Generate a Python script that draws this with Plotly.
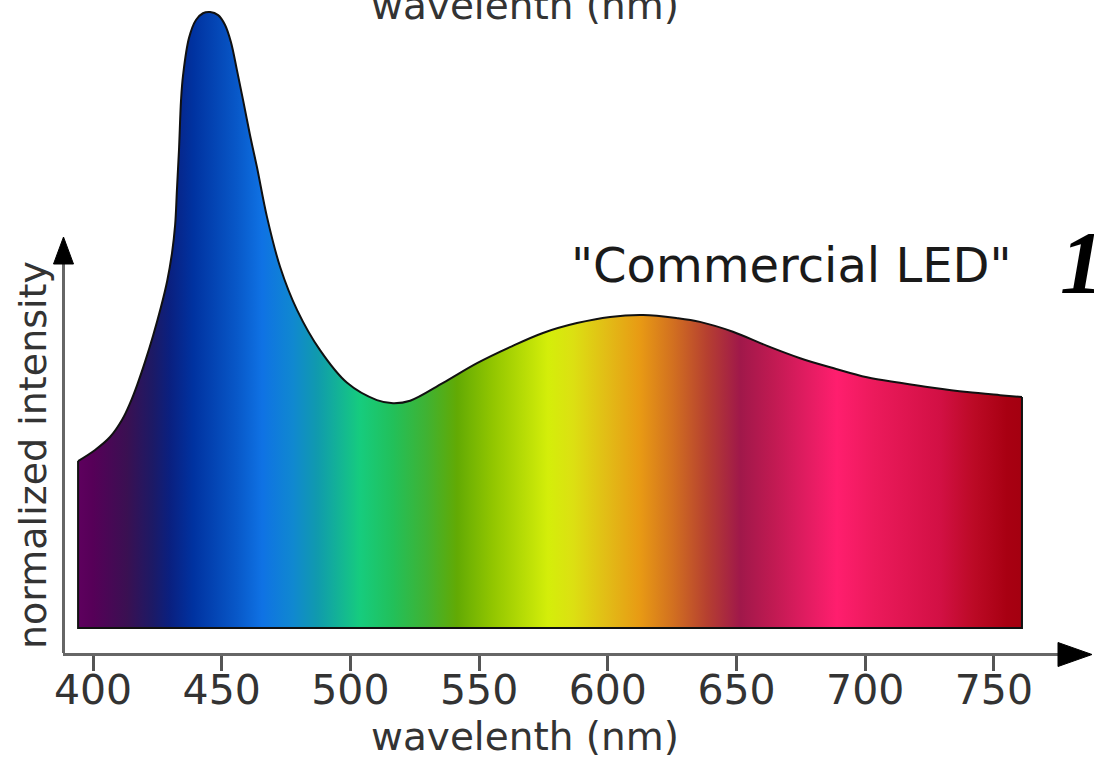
import plotly.graph_objects as go

# ---- data ----
wavelength_nm = [394.2, 400.8, 406.6, 411.3, 414.4, 417.1, 420.2, 423.3, 426.4, 428.8,
                 430.7, 431.9, 432.6, 433.4, 434.2, 435.0, 437.3, 440.0, 442.7, 445.5,
                 448.6, 451.3, 453.6, 455.9, 458.3, 461.0, 463.7, 467.6, 472.7, 479.3,
                 488.2, 498.7, 510.3, 516.6, 523.2, 536.0, 549.2, 562.0, 574.8, 588.0,
                 600.9, 613.7, 626.9, 635.8, 648.6, 661.9, 674.7, 687.5, 700.7, 713.5,
                 726.3, 739.6, 752.4, 760.9]
intensity = [0.271, 0.289, 0.310, 0.338, 0.365, 0.394, 0.432, 0.474, 0.521, 0.563,
             0.609, 0.654, 0.711, 0.776, 0.857, 0.898, 0.958, 0.987, 0.998, 1.000,
             0.995, 0.979, 0.951, 0.906, 0.857, 0.800, 0.748, 0.667, 0.586, 0.516,
             0.451, 0.398, 0.370, 0.365, 0.369, 0.398, 0.430, 0.456, 0.479, 0.495,
             0.505, 0.508, 0.503, 0.497, 0.481, 0.458, 0.438, 0.422, 0.407, 0.398,
             0.390, 0.383, 0.378, 0.375]

tick_values = [400, 450, 500, 550, 600, 650, 700, 750]
tick_labels = ["400", "450", "500", "550", "600", "650", "700", "750"]

# spectrum colours along the wavelength axis
spectrum_nm = [394.2, 400.0, 413.2, 423.3, 429.9, 438.9, 455.9, 465.7, 477.7, 487.0,
               503.7, 516.5, 529.8, 541.4, 555.4, 576.8, 586.5, 599.7, 612.5, 625.3,
               638.5, 651.4, 664.2, 689.0, 703.0, 729.1, 741.9, 755.1, 760.9]
spectrum_colors = ["#5e005e", "#560058", "#3a1052", "#1c1a66", "#0a2080", "#0032a0",
                   "#0858c8", "#0f72e4", "#1088d0", "#109aae", "#16cc7e", "#22c05a",
                   "#40b232", "#62aa04", "#92c600", "#d4ee0a", "#dce012", "#e2bc16",
                   "#e89a14", "#d27020", "#b64030", "#a0184a", "#c01a52", "#ff1e6e",
                   "#ec1a5c", "#d21044", "#bc0a26", "#a80012", "#a40010"]

label_text = '"Commercial LED"'
x_title = "wavelenth (nm)"
y_title = "normalized intensity"

FONT = "DejaVu Sans"

w0, w1 = spectrum_nm[0], spectrum_nm[-1]
colorscale = [[(w - w0) / (w1 - w0), c] for w, c in zip(spectrum_nm, spectrum_colors)]

fig = go.Figure()

fig.add_trace(go.Scatter(
    x=wavelength_nm, y=intensity, mode="lines",
    line=dict(color="#111111", width=2, shape="spline", smoothing=1.0),
    fill="tozeroy",
    fillgradient=dict(type="horizontal", colorscale=colorscale, start=w0, stop=w1),
    hoverinfo="skip", showlegend=False,
))

# closing edges of the filled shape (left, bottom, right)
fig.add_trace(go.Scatter(
    x=[wavelength_nm[0], wavelength_nm[0], wavelength_nm[-1], wavelength_nm[-1]],
    y=[intensity[0], 0, 0, intensity[-1]],
    mode="lines", line=dict(color="#111111", width=2),
    hoverinfo="skip", showlegend=False,
))

W, H = 1094, 764
L, R, T, B = 63, 4, 0, 111
x_range = [388.34, 787.33]
y_range = [-0.0406, 1.0195]
pw, ph = W - L - R, H - T - B

def px_to_paper_x(px):
    return (px - L) / pw

def px_to_paper_y(py):
    return (H - B - py) / ph

shapes = []
shapes.append(dict(type="line", xref="paper", yref="paper",
                   x0=px_to_paper_x(63.5), x1=px_to_paper_x(63.5),
                   y0=px_to_paper_y(653), y1=px_to_paper_y(262),
                   line=dict(color="#666666", width=3)))
shapes.append(dict(type="path", xref="paper", yref="paper",
                   path="M {} {} L {} {} L {} {} Z".format(
                       px_to_paper_x(63.5), px_to_paper_y(237),
                       px_to_paper_x(53.5), px_to_paper_y(264),
                       px_to_paper_x(73.5), px_to_paper_y(264)),
                   fillcolor="black", line=dict(color="black", width=1)))
shapes.append(dict(type="path", xref="paper", yref="paper",
                   path="M {} {} L {} {} L {} {} Z".format(
                       px_to_paper_x(1092), px_to_paper_y(654.5),
                       px_to_paper_x(1058), px_to_paper_y(642.5),
                       px_to_paper_x(1058), px_to_paper_y(666.5)),
                   fillcolor="black", line=dict(color="black", width=1)))

annotations = [
    dict(text=label_text, xref="paper", yref="paper",
         x=px_to_paper_x(791), y=px_to_paper_y(265), xanchor="center", yanchor="middle",
         showarrow=False, font=dict(family=FONT, size=48, color="#1a1a1a")),
    dict(text="<b><i>1</i></b>", xref="paper", yref="paper",
         x=px_to_paper_x(1058), y=px_to_paper_y(262), xanchor="left", yanchor="middle",
         showarrow=False, font=dict(family="Liberation Serif", size=88, color="#000000")),
    dict(text=x_title, xref="paper", yref="paper",
         x=px_to_paper_x(525), y=px_to_paper_y(736), xanchor="center", yanchor="middle",
         showarrow=False, font=dict(family=FONT, size=39, color="#333333")),
    dict(text=x_title, xref="paper", yref="paper",
         x=px_to_paper_x(525), y=px_to_paper_y(5.5), xanchor="center", yanchor="middle",
         showarrow=False, font=dict(family=FONT, size=39, color="#333333")),
    dict(text=y_title, xref="paper", yref="paper", textangle=-90,
         x=px_to_paper_x(33), y=px_to_paper_y(455), xanchor="center", yanchor="middle",
         showarrow=False, font=dict(family=FONT, size=38, color="#333333")),
]

fig.update_layout(
    width=W, height=H,
    margin=dict(l=L, r=R, t=T, b=B, pad=0),
    paper_bgcolor="white", plot_bgcolor="white",
    showlegend=False,
    xaxis=dict(range=x_range, tickvals=tick_values, ticktext=tick_labels,
               showgrid=False, zeroline=False, showline=True,
               linecolor="#666666", linewidth=3,
               ticks="outside", ticklen=15, tickwidth=2.5, tickcolor="#555555",
               ticklabelstandoff=-16,
               tickfont=dict(family=FONT, size=41, color="#333333"),
               fixedrange=True),
    yaxis=dict(range=y_range, visible=False, fixedrange=True),
    shapes=shapes,
    annotations=annotations,
)

fig.write_html("out.html", config={"displayModeBar": False},
               post_script="document.body.style.margin = '0px';")
